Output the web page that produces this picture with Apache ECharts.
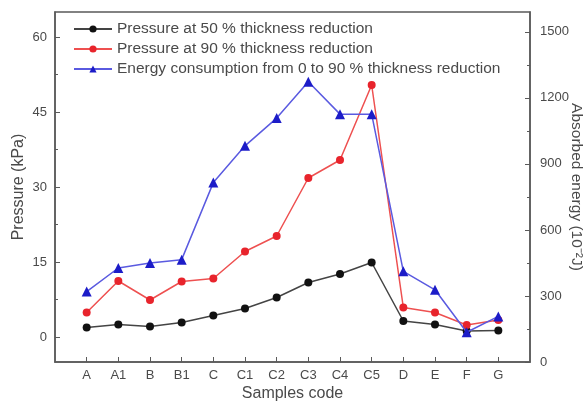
<!DOCTYPE html>
<html>
<head>
<meta charset="utf-8">
<script src="https://cdn.jsdelivr.net/npm/echarts@6/dist/echarts.min.js"></script>
<style>
  html, body { margin: 0; padding: 0; background: #fff; }
  #chart { width: 585px; height: 401px; }
</style>
</head>
<body>
<div id="chart"></div>
<script>
// Sample codes along the x axis
const categories = ['A', 'A1', 'B', 'B1', 'C', 'C1', 'C2', 'C3', 'C4', 'C5', 'D', 'E', 'F', 'G'];

// Pressure (kPa) at 50 % and 90 % thickness reduction
const pressure50 = [1.9, 2.5, 2.1, 2.9, 4.3, 5.7, 7.9, 10.9, 12.6, 14.9, 3.2, 2.5, 1.2, 1.3];
const pressure90 = [4.9, 11.2, 7.4, 11.1, 11.7, 17.1, 20.2, 31.8, 35.4, 50.4, 5.9, 4.9, 2.4, 3.4];

// Absorbed energy (10^-2 J) from 0 to 90 % thickness reduction
const energy = [320, 427, 450, 465, 815, 982, 1108, 1273, 1126, 1126, 412, 328, 135, 207];

// Tick positions / labels
const pressureTicks = [0, 15, 30, 45, 60];
const pressureMinorTicks = [7.5, 22.5, 37.5, 52.5];
const energyTicks = [0, 300, 600, 900, 1200, 1500];
const energyMinorTicks = [150, 450, 750, 1050, 1350];

const seriesNames = [
  'Pressure at 50 % thickness reduction',
  'Pressure at 90 % thickness reduction',
  'Energy consumption from 0 to 90 % thickness reduction'
];

const axisGray = '#5a5a5a';
const textGray = '#4a4a4a';
const font = 'Liberation Sans, Arial, sans-serif';

const toPairs = arr => arr.map((v, i) => [i, v]);
const catIdx = categories.map((_, i) => i);
const plain = v => String(v);

const chart = echarts.init(document.getElementById('chart'), null, { renderer: 'canvas' });

chart.setOption({
  animation: false,
  backgroundColor: '#fff',
  textStyle: { fontFamily: font },
  grid: {
    left: 55, right: 55, top: 12, bottom: 39,
    containLabel: false,
    outerBoundsMode: 'none',
    show: true, borderColor: axisGray, borderWidth: 1.5
  },
  legend: {
    orient: 'vertical',
    left: 73, top: 21,
    padding: 0,
    itemWidth: 38, itemHeight: 9, itemGap: 4,
    textStyle: { fontSize: 15.5, color: textGray, fontFamily: font },
    data: seriesNames
  },
  xAxis: {
    type: 'value',
    min: -1, max: 14,
    name: 'Samples code',
    nameLocation: 'middle',
    nameGap: 24,
    nameMoveOverlap: false,
    nameTextStyle: { fontSize: 16, color: textGray, fontFamily: font },
    axisLine: { show: true, onZero: false, lineStyle: { color: axisGray, width: 1.5 } },
    axisTick: { show: true, inside: true, length: 5, customValues: catIdx, lineStyle: { color: axisGray } },
    axisLabel: {
      customValues: catIdx,
      formatter: v => categories[v] || '',
      fontSize: 13, color: textGray, margin: 7, fontFamily: font
    },
    splitLine: { show: false }
  },
  yAxis: [
    {
      type: 'value',
      min: -5, max: 65,
      position: 'left',
      name: 'Pressure (kPa)',
      nameLocation: 'middle',
      nameGap: 28,
      nameMoveOverlap: false,
      nameTextStyle: { fontSize: 16, color: textGray, fontFamily: font },
      axisLine: { show: true, onZero: false, lineStyle: { color: axisGray, width: 1.5 } },
      axisTick: { show: true, inside: true, length: 5, customValues: pressureTicks, lineStyle: { color: axisGray } },
      axisLabel: { customValues: pressureTicks, formatter: plain, fontSize: 13, color: textGray, margin: 8, fontFamily: font },
      splitLine: { show: false }
    },
    {
      type: 'value',
      min: 0, max: 1590,
      position: 'right',
      name: 'Absorbed energy (10\u207B\u00B2J)',
      nameLocation: 'middle',
      nameGap: 38,
      nameMoveOverlap: false,
      nameRotate: -90,
      nameTextStyle: { fontSize: 15.5, color: textGray, fontFamily: font },
      axisLine: { show: true, onZero: false, lineStyle: { color: axisGray, width: 1.5 } },
      axisTick: { show: true, inside: true, length: 5, customValues: energyTicks, lineStyle: { color: axisGray } },
      axisLabel: { customValues: energyTicks, formatter: plain, fontSize: 13, color: textGray, margin: 10, fontFamily: font },
      splitLine: { show: false }
    },
    {
      // minor ticks on the pressure axis
      type: 'value',
      min: -5, max: 65,
      position: 'left',
      axisLine: { show: false, onZero: false },
      axisTick: { show: true, inside: true, length: 3, customValues: pressureMinorTicks, lineStyle: { color: axisGray } },
      axisLabel: { show: false },
      splitLine: { show: false }
    },
    {
      // minor ticks on the energy axis
      type: 'value',
      min: 0, max: 1590,
      position: 'right',
      axisLine: { show: false, onZero: false },
      axisTick: { show: true, inside: true, length: 3, customValues: energyMinorTicks, lineStyle: { color: axisGray } },
      axisLabel: { show: false },
      splitLine: { show: false }
    }
  ],
  series: [
    {
      name: seriesNames[0],
      type: 'line',
      yAxisIndex: 0,
      data: toPairs(pressure50),
      symbol: 'circle', symbolSize: 8,
      itemStyle: { color: '#111' },
      lineStyle: { color: '#444', width: 1.5 },
      z: 3
    },
    {
      name: seriesNames[1],
      type: 'line',
      yAxisIndex: 0,
      data: toPairs(pressure90),
      symbol: 'circle', symbolSize: 8,
      itemStyle: { color: '#e8242c' },
      lineStyle: { color: '#ee5050', width: 1.5 },
      z: 4
    },
    {
      name: seriesNames[2],
      type: 'line',
      yAxisIndex: 1,
      data: toPairs(energy),
      symbol: 'triangle', symbolSize: 10,
      itemStyle: { color: '#1c1cc8' },
      lineStyle: { color: '#5a5ae0', width: 1.5 },
      z: 5
    }
  ]
});
</script>
</body>
</html>
